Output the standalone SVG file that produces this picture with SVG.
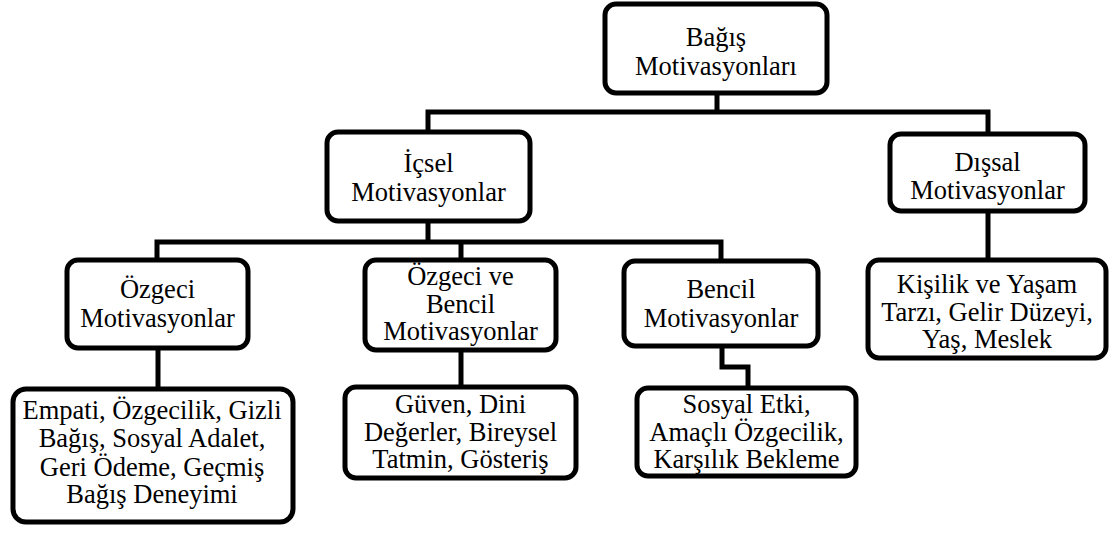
<svg xmlns="http://www.w3.org/2000/svg" width="1119" height="536" viewBox="0 0 1119 536">
  <style>
    .box { fill: #ffffff; stroke: #000000; stroke-width: 5; }
    .link { fill: none; stroke: #000000; stroke-width: 5; stroke-linejoin: miter; stroke-linecap: butt; }
    .label { font-size: 26.5px; fill: #000000; text-anchor: middle; }
  </style>
  <rect width="1119" height="536" fill="#ffffff"/>

  <g id="connectors">
    <polyline class="link" points="717,95 717,112"/>
    <polyline class="link" points="428,131 428,112 988,112 988,133"/>
    <polyline class="link" points="428,223 428,242"/>
    <polyline class="link" points="157,259 157,242 721,242 721,260"/>
    <polyline class="link" points="461,242 461,259"/>
    <polyline class="link" points="158,350 158,388"/>
    <polyline class="link" points="461,352 461,386"/>
    <polyline class="link" points="722,348 722,367 748,367 748,387"/>
    <polyline class="link" points="988,213 988,259"/>
  </g>

  <g font-family="'Liberation Serif', Tinos, 'Times New Roman', 'DejaVu Serif', serif">
  <g id="bagis-motivasyonlari">
    <rect class="box" x="605" y="4" width="222" height="89" rx="11"/>
    <text class="label" x="716" y="46">Bağış</text>
    <text class="label" x="716" y="75">Motivasyonları</text>
  </g>

  <g id="icsel-motivasyonlar">
    <rect class="box" x="327" y="132" width="203" height="89" rx="11"/>
    <text class="label" x="428.5" y="172">İçsel</text>
    <text class="label" x="428.5" y="201">Motivasyonlar</text>
  </g>

  <g id="dissal-motivasyonlar">
    <rect class="box" x="890" y="134" width="195" height="77" rx="11"/>
    <text class="label" x="987.5" y="171">Dışsal</text>
    <text class="label" x="987.5" y="199">Motivasyonlar</text>
  </g>

  <g id="ozgeci-motivasyonlar">
    <rect class="box" x="67" y="260" width="181" height="88" rx="11"/>
    <text class="label" x="157.5" y="298">Özgeci</text>
    <text class="label" x="157.5" y="327">Motivasyonlar</text>
  </g>

  <g id="ozgeci-ve-bencil-motivasyonlar">
    <rect class="box" x="365" y="260" width="191" height="90" rx="11"/>
    <text class="label" x="460.5" y="285">Özgeci ve</text>
    <text class="label" x="460.5" y="312.5">Bencil</text>
    <text class="label" x="460.5" y="340">Motivasyonlar</text>
  </g>

  <g id="bencil-motivasyonlar">
    <rect class="box" x="624" y="261" width="194" height="85" rx="11"/>
    <text class="label" x="721" y="298">Bencil</text>
    <text class="label" x="721" y="327">Motivasyonlar</text>
  </g>

  <g id="kisilik-yasam">
    <rect class="box" x="868" y="260" width="238" height="98" rx="11"/>
    <text class="label" x="987" y="293">Kişilik ve Yaşam</text>
    <text class="label" x="987" y="320.5">Tarzı, Gelir Düzeyi,</text>
    <text class="label" x="987" y="348">Yaş, Meslek</text>
  </g>

  <g id="empati-ozgecilik">
    <rect class="box" x="13" y="389" width="280" height="133" rx="13"/>
    <text class="label" x="152" y="419">Empati, Özgecilik, Gizli</text>
    <text class="label" x="152" y="447">Bağış, Sosyal Adalet,</text>
    <text class="label" x="152" y="475.5">Geri Ödeme, Geçmiş</text>
    <text class="label" x="152" y="503">Bağış Deneyimi</text>
  </g>

  <g id="guven-dini-degerler">
    <rect class="box" x="345" y="387" width="231" height="91" rx="11"/>
    <text class="label" x="460.5" y="413">Güven, Dini</text>
    <text class="label" x="460.5" y="441">Değerler, Bireysel</text>
    <text class="label" x="460.5" y="468">Tatmin, Gösteriş</text>
  </g>

  <g id="sosyal-etki">
    <rect class="box" x="637" y="388" width="219" height="88" rx="11"/>
    <text class="label" x="746.5" y="413">Sosyal Etki,</text>
    <text class="label" x="746.5" y="441">Amaçlı Özgecilik,</text>
    <text class="label" x="746.5" y="468">Karşılık Bekleme</text>
  </g>
  </g>
</svg>
